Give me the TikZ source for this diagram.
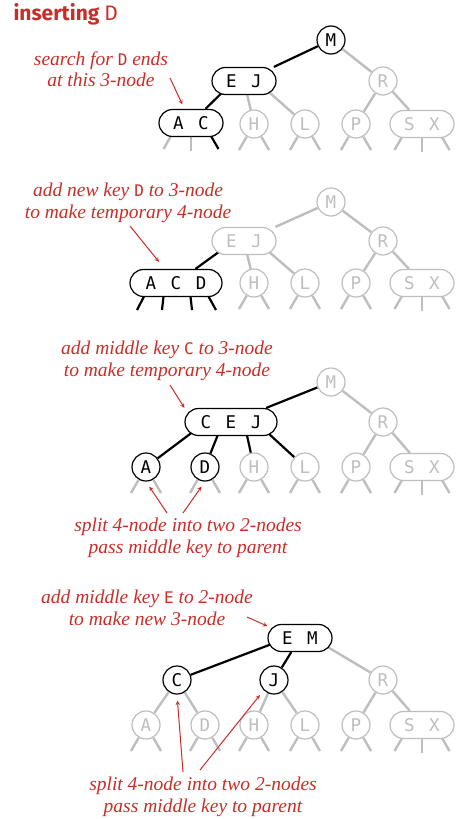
\documentclass[tikz,border=0pt]{standalone}
\usepackage{fontspec}
\newfontfamily\keyfont{DejaVu Sans Mono}
\newfontfamily\titlefont{Fira Sans}
\newfontfamily\notefont{Liberation Serif}
\usetikzlibrary{backgrounds}
\definecolor{lgray}{RGB}{190,190,190}
\definecolor{nred}{RGB}{200,45,40}
\newcommand\ksep{\hspace{14.5pt}}
\newcommand\kname[1]{{\upshape\keyfont\fontsize{16}{16}\selectfont #1}}
% null links below a 2-node and a 3-node
\newcommand\stubsII[1]{\draw[glink] (#1) -- ++(-15,26); \draw[glink] (#1) -- ++(15,26);}
\newcommand\stubsIII[1]{\draw[glink] ([xshift=-12.5pt]#1.center) -- ++(-15,26);
  \draw[glink] (#1.center) -- ++(0,28); \draw[glink] ([xshift=12.5pt]#1.center) -- ++(15,26);}

\tikzset{
  key/.style={draw, line width=1.2pt, fill=white, inner sep=0pt, font=\keyfont\fontsize{17.5}{17.5}\selectfont},
  n2/.style={key, circle, minimum size=28pt},
  n3/.style={key, rectangle, rounded corners=13.5pt, minimum width=64pt, minimum height=27pt},
  n4/.style={n3, minimum width=92pt},
  on/.style={draw=black, text=black},
  off/.style={draw=lgray, text=lgray},
  link/.style={line width=2.2pt, black},
  glink/.style={line width=2.4pt, lgray},
  note/.style={text=nred, font=\notefont\itshape\fontsize{19.5}{21.5}\selectfont, align=center},
  arr/.style={->, >=stealth, nred, line width=1pt}
}

\begin{document}
\begin{tikzpicture}[x=1pt, y=-1pt]
    \useasboundingbox (0,0) rectangle (462,819);

    % Titulo
    \node[anchor=west, text=nred, font=\titlefont\fontsize{21}{21}\selectfont] (title) at (10,14) {\bfseries inserting \mdseries D};

    % Busca termina no 3-no
    \node[n2,on] (M1) at (331,40) {M};
    \node[n3,on] (EJ1) at (244,81) {E\ksep J};
    \node[n2,off] (R1) at (383,81) {R};
    \node[n3,on] (AC1) at (191,123) {A\ksep C};
    \node[n2,off] (H1) at (254,124) {H};
    \node[n2,off] (L1) at (305,124) {L};
    \node[n2,off] (P1) at (356,124) {P};
    \node[n3,off] (SX1) at (422,124) {S\ksep X};
    \node[note] (s1) at (101,69) {search for \kname{D} ends\\at this 3-node};
    \coordinate (s1a) at (170,78);
    \draw[arr, shorten >=5pt] (s1a) -- (AC1);

    % 4-no temporario
    \node[n2,off] (M2) at (331,202) {M};
    \node[n3,off] (EJ2) at (244,241) {E\ksep J};
    \node[n2,off] (R2) at (383,241) {R};
    \node[n4,on] (ACD2) at (176,283) {A\ksep C\ksep D};
    \node[n2,off] (H2) at (254,283) {H};
    \node[n2,off] (L2) at (305,283) {L};
    \node[n2,off] (P2) at (356,283) {P};
    \node[n3,off] (SX2) at (422,283) {S\ksep X};
    \node[note] (s2) at (128,203) {add new key \kname{D} to 3-node\\to make temporary 4-node};
    \coordinate (s2a) at (130,226);
    \draw[arr, shorten >=9pt] (s2a) -- (ACD2);

    % Chave do meio sobe
    \node[n2,off] (M3) at (331,382) {M};
    \node[n4,on] (CEJ3) at (231,422) {C\ksep E\ksep J};
    \node[n2,off] (R3) at (383,422) {R};
    \node[n2,on] (A3) at (146,467) {A};
    \node[n2,on] (D3) at (205,467) {D};
    \node[n2,off] (H3) at (254,467) {H};
    \node[n2,off] (L3) at (305,467) {L};
    \node[n2,off] (P3) at (356,467) {P};
    \node[n3,off] (SX3) at (422,467) {S\ksep X};
    \node[note] (s3) at (167,361) {add middle key \kname{C} to 3-node\\to make temporary 4-node};
    \coordinate (s3a) at (170,385);
    \draw[arr] (s3a) -- (CEJ3.north west);
    \node[note] (s4) at (188,538) {split 4-node into two 2-nodes\\pass middle key to parent};
    \coordinate (s4a) at (167,513);
    \coordinate (s4b) at (183,513);
    \draw[arr, shorten >=6pt] (s4a) -- (A3.south);
    \draw[arr, shorten >=6pt] (s4b) -- (D3.south);

    % Novo 3-no na raiz
    \node[n3,on] (EM4) at (300,638) {E\ksep M};
    \node[n2,on] (C4) at (177,680) {C};
    \node[n2,on] (J4) at (274,680) {J};
    \node[n2,off] (R4) at (383,680) {R};
    \node[n2,off] (A4) at (146,725) {A};
    \node[n2,off] (D4) at (205,725) {D};
    \node[n2,off] (H4) at (254,725) {H};
    \node[n2,off] (L4) at (305,725) {L};
    \node[n2,off] (P4) at (356,725) {P};
    \node[n3,off] (SX4) at (422,725) {S\ksep X};
    \node[note] (s5) at (147,608) {add middle key \kname{E} to 2-node\\to make new 3-node};
    \coordinate (s5a) at (247,617);
    \draw[arr] (s5a) -- (EM4.160);
    \node[note] (s6) at (203,797) {split 4-node into two 2-nodes\\pass middle key to parent};
    \coordinate (s6a) at (183,772);
    \coordinate (s6b) at (200,770);
    \draw[arr, shorten >=6pt] (s6a) -- (C4.south);
    \draw[arr, shorten >=6pt] (s6b) -- (J4.south west);

    % Ligacoes (atras dos nos)
    \begin{scope}[on background layer]
        \draw[link] (M1) -- (EJ1);
        \draw[glink] (M1) -- (R1);
        \draw[link] ([xshift=-10pt]EJ1.center) -- (AC1);
        \draw[glink] (EJ1) -- (H1);
        \draw[glink] ([xshift=12.5pt]EJ1.center) -- (L1);
        \draw[glink] (R1) -- (P1);
        \draw[glink] (R1) -- (SX1);
        \draw[glink] ([xshift=-12.5pt]AC1.center) -- ++(-15,26);
        \draw[glink] (AC1.center) -- ++(0,28);
        \draw[link] ([xshift=12.5pt]AC1.center) -- ++(15,26);
        \stubsII{H1} \stubsII{L1} \stubsII{P1} \stubsIII{SX1}

        \draw[glink] (M2) -- (EJ2);
        \draw[glink] (M2) -- (R2);
        \draw[link] ([xshift=-10pt]EJ2.center) -- (ACD2);
        \draw[glink] (EJ2) -- (H2);
        \draw[glink] ([xshift=12.5pt]EJ2.center) -- (L2);
        \draw[glink] (R2) -- (P2);
        \draw[glink] (R2) -- (SX2);
        \draw[link] ([xshift=-25pt]ACD2.center) -- ++(-14,27);
        \draw[link] ([xshift=-11pt]ACD2.center) -- ++(-3,27);
        \draw[link] ([xshift=13pt]ACD2.center) -- ++(3,27);
        \draw[link] ([xshift=25pt]ACD2.center) -- ++(15,27);
        \stubsII{H2} \stubsII{L2} \stubsII{P2} \stubsIII{SX2}

        \draw[link] (M3) -- (CEJ3);
        \draw[glink] (M3) -- (R3);
        \draw[link] ([xshift=-25pt]CEJ3.center) -- (A3);
        \draw[link] ([xshift=-8pt]CEJ3.center) -- (D3);
        \draw[link] ([xshift=13pt]CEJ3.center) -- (H3);
        \draw[link] ([xshift=25pt]CEJ3.center) -- (L3);
        \draw[glink] (R3) -- (P3);
        \draw[glink] (R3) -- (SX3);
        \stubsII{A3} \stubsII{D3} \stubsII{H3} \stubsII{L3} \stubsII{P3} \stubsIII{SX3}

        \draw[link] ([xshift=-12.5pt]EM4.center) -- (C4);
        \draw[link] (EM4) -- (J4);
        \draw[glink] ([xshift=12.5pt]EM4.center) -- (R4);
        \draw[glink] (C4) -- (A4);
        \draw[glink] (C4) -- (D4);
        \draw[glink] (J4) -- (H4);
        \draw[glink] (J4) -- (L4);
        \draw[glink] (R4) -- (P4);
        \draw[glink] (R4) -- (SX4);
        \stubsII{A4} \stubsII{D4} \stubsII{H4} \stubsII{L4} \stubsII{P4} \stubsIII{SX4}
    \end{scope}
\end{tikzpicture}
\end{document}
